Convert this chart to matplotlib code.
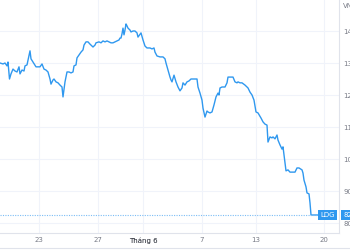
import numpy as np
import matplotlib
matplotlib.use('Agg')
import matplotlib.pyplot as plt

# horizontal position along the session axis, and closing price (VND)
t = [0, 3, 5, 7, 8, 9.5, 11, 13, 15, 17, 19, 20, 22, 24, 25, 27, 28, 30, 31, 33,
     36, 40, 42, 44, 46, 48, 50, 51, 53, 54, 56, 58, 60, 62, 63, 65, 67, 69, 71, 73,
     74, 76, 77, 79, 81, 83, 84, 86, 88, 90, 93, 95, 96, 99, 101, 103, 105, 107, 109, 111,
     113, 115, 117, 119, 120, 121, 122, 123, 124, 125, 126, 127, 128, 130, 131, 133, 135, 137, 138, 141,
     143, 145, 147, 150, 152, 154, 155, 157, 160, 163, 165, 166, 168, 170, 171, 172, 174, 176, 178, 180,
     182, 183, 185, 187, 189, 191, 195, 197, 198, 200, 202, 203, 205, 207, 208, 210, 212, 214, 216, 218,
     219, 220, 222, 225, 227, 228, 230, 233, 235, 237, 238, 240, 242, 245, 248, 250, 252, 254, 256, 258,
     261, 263, 265, 267, 268, 270, 272, 273, 275, 277, 278, 280, 282, 283, 284, 285, 286, 288, 290, 293,
     295, 297, 299, 302, 303, 304, 306, 307, 309, 310, 311, 313, 320]
price = [13000, 12970, 13000, 12910, 13030, 12500, 12660, 12810, 12750, 12720, 12880, 12660, 12780, 12750, 12910, 12940, 13090, 13380, 13130, 13030,
         12880, 12880, 12970, 12810, 12780, 12720, 12500, 12340, 12470, 12500, 12410, 12380, 12310, 12250, 11940, 12410, 12720, 12720, 12690, 12720,
         12910, 12940, 13160, 13250, 13340, 13410, 13560, 13660, 13660, 13590, 13500, 13560, 13630, 13660, 13630, 13690, 13660, 13690, 13660, 13630,
         13630, 13660, 13690, 13720, 13780, 13780, 13910, 14090, 13880, 14030, 14220, 14160, 14090, 14030, 13970, 14000, 14000, 13940, 13810, 13940,
         13720, 13530, 13470, 13470, 13440, 13470, 13340, 13220, 13190, 13190, 13130, 13000, 12780, 12560, 12470, 12410, 12620, 12410, 12250, 12130,
         12220, 12380, 12310, 12410, 12440, 12500, 12500, 12500, 12250, 12060, 11840, 11590, 11310, 11500, 11470, 11440, 11470, 11690, 11940, 12060,
         12000, 12220, 12250, 12250, 12380, 12560, 12560, 12560, 12410, 12380, 12410, 12380, 12380, 12310, 12220, 12090, 12000, 11840, 11470, 11440,
         11280, 11160, 11090, 11060, 10530, 10690, 10660, 10690, 10630, 10750, 10590, 10440, 10310, 10380, 10130, 9880, 9630, 9660, 9590, 9590,
         9590, 9720, 9720, 9660, 9560, 9340, 9130, 8940, 8910, 8630, 8250, 8250, 8250]

tick_pos = [39, 98, 143, 202, 256, 324]
tick_labels = ['23', '27', 'Tháng 6', '7', '13', '20']
y_ticks = [8000, 9000, 10000, 11000, 12000, 13000, 14000]
symbol = 'LDG'
unit = 'VND'

blue = '#2f98ef'
grid_c = '#f0f3fa'
txt_c = '#787b86'

fig = plt.figure(figsize=(3.5, 2.5), dpi=100)
ax = fig.add_axes([0, 1 - 233 / 250, 339 / 350, 233 / 250])
ax.plot(t, price, color=blue, lw=1.0, solid_joinstyle='round')

last = price[-1]
ax.plot([0, t[-1]], [last, last], color='#7cbdf5', lw=0.8, ls=(0, (1, 1.2)))

ax.set_xlim(0, 339)
ax.set_ylim(7687.5, 14968.75)

ax.set_xticks(tick_pos)
ax.set_xticklabels(tick_labels)
ax.set_yticks(y_ticks)
ax.set_yticklabels([str(v) for v in y_ticks])
ax.yaxis.tick_right()
ax.tick_params(axis='both', length=0, labelsize=5, colors=txt_c)
ax.tick_params(axis='x', pad=3.2)
ax.tick_params(axis='y', pad=3)
ax.get_xticklabels()[2].set_color('#131722')

ax.grid(True, color=grid_c, lw=0.8)
for s in ['top', 'left']:
    ax.spines[s].set_visible(False)
ax.spines['right'].set_color('#e0e3eb')
ax.spines['bottom'].set_color('#e0e3eb')
ax.spines['right'].set_linewidth(0.8)
ax.spines['bottom'].set_linewidth(0.8)

# price tags
ax.text(t[-1] + 0.5, last, symbol, fontsize=5, color='white', ha='left', va='center',
        bbox=dict(boxstyle='square,pad=0.35', fc=blue, ec='none'), clip_on=False)
ax.text(1.012, last, str(last), transform=ax.get_yaxis_transform(), fontsize=5,
        color='white', ha='left', va='center',
        bbox=dict(boxstyle='square,pad=0.35', fc=blue, ec='none'), clip_on=False)

fig.text(343 / 350, 1 - 6 / 250, unit, fontsize=5, color=txt_c, ha='left', va='center')
fig.add_artist(plt.Line2D([0, 1], [2 / 250, 2 / 250], color='#e0e3eb', lw=0.8))

fig.savefig('out.png', dpi=100)
